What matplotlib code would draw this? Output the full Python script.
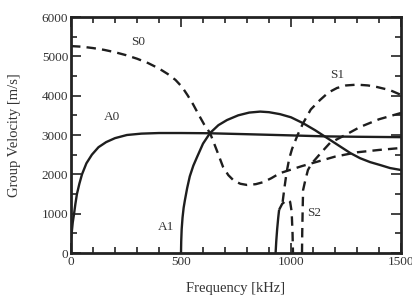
import matplotlib
matplotlib.use("Agg")
import matplotlib.pyplot as plt
from matplotlib.ticker import MultipleLocator

plt.rcParams['font.family'] = ['Liberation Serif', 'DejaVu Serif']

# ---- data (frequency kHz, group velocity m/s) ----
a0_f = [0, 2, 4, 8, 14, 20, 27, 38, 50, 70, 95, 125, 160, 200, 254, 320, 400, 500, 623, 800, 1000, 1155, 1300, 1500]
a0_v = [380, 480, 560, 780, 1000, 1250, 1500, 1760, 2000, 2280, 2500, 2690, 2820, 2920, 3000, 3035, 3050, 3050, 3045, 3020, 2990, 2965, 2955, 2945]

s0_f = [0, 50, 100, 150, 200, 250, 300, 350, 400, 440, 475, 505, 530, 555, 580, 605, 632, 662, 691, 715, 740, 770, 800, 840, 873, 910, 950, 1000, 1050, 1100, 1200, 1300, 1400, 1500]
s0_v = [5260, 5245, 5210, 5165, 5105, 5030, 4940, 4830, 4690, 4550, 4400, 4220, 4010, 3780, 3520, 3270, 3050, 2620, 2190, 1980, 1840, 1760, 1730, 1750, 1800, 1900, 2030, 2120, 2210, 2290, 2450, 2560, 2620, 2670]

a1_f = [500, 501, 503, 507, 512, 518, 528, 540, 556, 573, 600, 632, 670, 709, 760, 810, 860, 900, 950, 1000, 1055, 1110, 1168, 1223, 1270, 1314, 1360, 1405, 1450, 1500]
a1_v = [0, 300, 600, 900, 1150, 1350, 1650, 1950, 2220, 2440, 2780, 3050, 3250, 3380, 3500, 3570, 3595, 3580, 3530, 3450, 3300, 3120, 2910, 2710, 2540, 2410, 2310, 2237, 2160, 2110]

a2_f = [930, 933, 937, 942, 946]
a2_v = [0, 300, 600, 900, 1100]

s1hook_f = [946, 960, 975, 986, 996, 1003, 1007, 1009]
s1hook_v = [1100, 1250, 1320, 1350, 1300, 1050, 500, 0]

s1_f = [962, 970, 980, 992, 1005, 1030, 1055, 1090, 1132, 1170, 1209, 1250, 1300, 1350, 1391, 1450, 1500]
s1_v = [1300, 1650, 2050, 2400, 2650, 3000, 3300, 3650, 3890, 4080, 4195, 4260, 4280, 4260, 4220, 4140, 4020]

s2_f = [1050, 1051, 1053, 1055, 1065, 1077, 1088, 1100, 1140, 1177, 1250, 1314, 1400, 1500]
s2_v = [0, 500, 1100, 1600, 1850, 2110, 2220, 2314, 2570, 2797, 3010, 3204, 3400, 3560]

labels = ["S0", "A0", "S1", "A1", "S2"]
label_f = [305, 187, 1209, 432, 1105]
label_v = [5365, 3458, 4525, 661, 1017]

x_ticks = [0, 500, 1000, 1500]
y_ticks = [0, 1000, 2000, 3000, 4000, 5000, 6000]

fig = plt.figure(figsize=(4.12, 2.96), dpi=100)
ax = fig.add_axes([71/412, 43/296, 330/412, 236/296])

lw = 1.7
col = '#1e1e1e'
dash = (4, 2.6)

ax.plot(a0_f, a0_v, color=col, lw=lw, solid_capstyle='butt', solid_joinstyle='round')
ax.plot(a1_f, a1_v, color=col, lw=lw, solid_capstyle='butt', solid_joinstyle='round')
ax.plot(a2_f, a2_v, color=col, lw=lw, solid_capstyle='butt', solid_joinstyle='round')
for f, v in [(s0_f, s0_v), (s1hook_f, s1hook_v), (s1_f, s1_v), (s2_f, s2_v)]:
    ln, = ax.plot(f, v, color=col, lw=lw, dash_capstyle='butt', dash_joinstyle='round')
    ln.set_dashes(dash)

for t, f, v in zip(labels, label_f, label_v):
    ax.text(f, v, t, fontsize=9.5, ha='center', va='center', color='#333333')

ax.set_xlim(0, 1500)
ax.set_ylim(0, 6000)
ax.set_xticks(x_ticks)
ax.set_yticks(y_ticks)
ax.xaxis.set_minor_locator(MultipleLocator(100))
ax.yaxis.set_minor_locator(MultipleLocator(500))
ax.tick_params(which='both', direction='in', top=True, right=True, width=1.2, colors='#222222', labelcolor='#333333', labelsize=9.5, pad=2)
ax.tick_params(which='major', length=7)
ax.tick_params(which='minor', length=4)
for s in ax.spines.values():
    s.set_linewidth(2)
    s.set_color('#222222')

ax.set_xlabel('Frequency [kHz]', fontsize=10.5, color='#333333', labelpad=10)
ax.set_ylabel('Group Velocity [m/s]', fontsize=10.5, color='#333333', labelpad=15)

fig.savefig('out.png', dpi=100)
